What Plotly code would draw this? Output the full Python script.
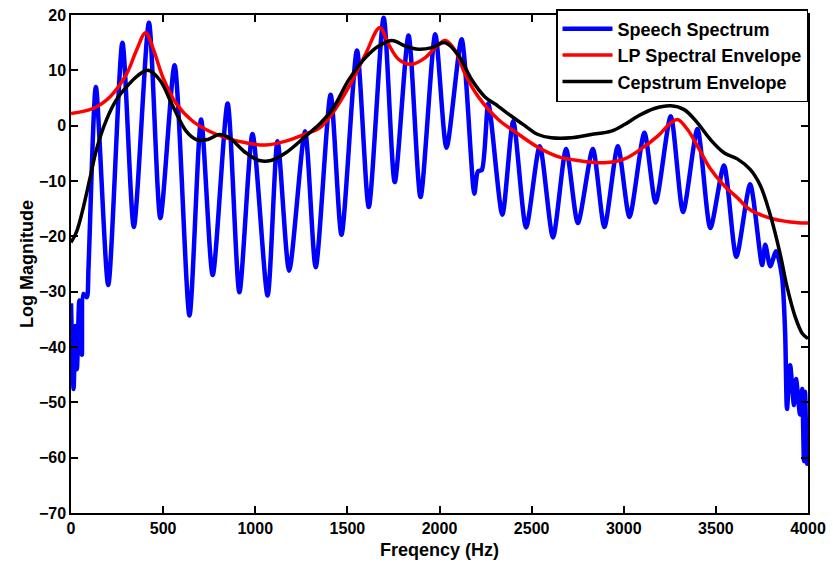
import plotly.graph_objects as go

# Harmonic speech spectrum: turning points (peaks / valleys) of the log magnitude
speech_freq = [0, 14, 23, 32, 45, 59, 68, 86, 95, 135, 202, 279, 341, 423, 485, 562, 643,
               706, 769, 850, 914, 985, 1067, 1121, 1184, 1270, 1328, 1409, 1468, 1552,
               1616, 1697, 1757, 1832, 1897, 1977, 2038, 2120, 2189, 2208, 2230, 2265,
               2341, 2400, 2470, 2544, 2616, 2687, 2751, 2832, 2895, 2968, 3031, 3112,
               3173, 3255, 3322, 3400, 3470, 3544, 3611, 3686, 3751, 3768, 3795, 3827,
               3859, 3876, 3886, 3903, 3924, 3935, 3957, 3968, 3978, 3984, 3995, 4000]
speech_mag = [-32.1, -47.6, -36.2, -44.0, -31.6, -41.4, -30.4, -31.0, -25.6, 7.0, -28.8,
              15.0, -18.3, 18.6, -16.7, 10.9, -34.3, 1.1, -27.0, 4.0, -30.1, -1.5, -30.7,
              -2.8, -26.2, -1.0, -25.6, 5.6, -19.7, 13.6, -14.7, 19.5, -10.2, 16.3, -12.9,
              16.5, -4.0, 15.6, -12.3, -8.3, -8.0, 4.0, -16.1, 0.8, -18.4, -3.7, -20.2,
              -4.2, -17.6, -4.2, -18.3, -3.7, -16.5, -1.3, -13.9, 1.7, -15.6, -0.6, -18.5,
              -7.2, -23.7, -10.6, -25.2, -21.5, -25.4, -22.7, -27.3, -37.5, -51.2, -43.3,
              -50.5, -45.8, -52.2, -47.6, -60.6, -48.1, -61.1, -60.0]

# Linear-prediction spectral envelope
lp_freq = [0, 119, 211, 301, 355, 405, 444, 498, 571, 661, 751, 841, 949, 1058, 1166,
           1274, 1346, 1418, 1508, 1598, 1676, 1724, 1778, 1849, 1923, 1977, 2031, 2085,
           2139, 2211, 2319, 2427, 2535, 2643, 2751, 2895, 3004, 3094, 3184, 3255, 3292,
           3346, 3400, 3470, 3544, 3616, 3686, 3795, 3903, 4000]
lp_mag = [2.2, 3.1, 5.2, 9.3, 13.6, 16.8, 14.1, 8.8, 4.0, 0.8, -1.0, -2.2, -3.1, -3.5,
          -2.8, -1.5, -0.5, 2.2, 7.0, 12.9, 17.7, 14.7, 12.0, 11.1, 12.3, 14.1, 15.4, 13.6,
          9.3, 5.2, 1.1, -1.5, -3.9, -5.6, -6.3, -6.7, -6.0, -4.2, -1.9, 0.5, 1.1, -0.7,
          -3.7, -7.8, -10.8, -13.0, -15.2, -16.7, -17.4, -17.6]

# Cepstrally smoothed envelope
cep_freq = [0, 31, 66, 103, 139, 193, 247, 301, 364, 418, 481, 553, 625, 679, 742, 805,
            859, 949, 1022, 1085, 1166, 1274, 1346, 1418, 1508, 1598, 1670, 1742, 1814,
            1886, 1959, 2031, 2103, 2175, 2247, 2319, 2391, 2463, 2535, 2607, 2715, 2823,
            2932, 3004, 3076, 3166, 3255, 3328, 3400, 3470, 3544, 3616, 3686, 3741, 3795,
            3849, 3886, 3930, 3968, 4000]
cep_mag = [-21.1, -19.1, -14.9, -9.5, -4.2, 1.1, 4.7, 7.0, 9.1, 10.0, 8.3, 3.5, -1.0,
           -2.5, -2.5, -1.6, -2.2, -4.9, -6.3, -6.3, -4.9, -1.9, 0.2, 2.9, 8.3, 12.3, 14.4,
           15.4, 14.4, 13.8, 14.1, 15.0, 12.7, 8.3, 5.2, 3.5, 1.7, 0.0, -1.6, -2.2, -2.2,
           -1.6, -1.0, 0.2, 1.7, 3.1, 3.6, 2.9, 0.5, -2.5, -4.9, -6.0, -7.9, -10.8, -16.1,
           -23.2, -29.1, -34.5, -37.5, -38.5]

x_ticks = [0, 500, 1000, 1500, 2000, 2500, 3000, 3500, 4000]
y_ticks = [-70, -60, -50, -40, -30, -20, -10, 0, 10, 20]

FONT = "Liberation Sans, Arial, Helvetica, sans-serif"

fig = go.Figure()
fig.add_trace(go.Scatter(x=speech_freq, y=speech_mag, mode="lines", name="Speech Spectrum",
                         line=dict(color="#0000ff", width=4.5, shape="spline", smoothing=0.7)))
fig.add_trace(go.Scatter(x=lp_freq, y=lp_mag, mode="lines", name="LP Spectral Envelope",
                         line=dict(color="#ff0000", width=3.5, shape="spline", smoothing=1.0)))
fig.add_trace(go.Scatter(x=cep_freq, y=cep_mag, mode="lines", name="Cepstrum Envelope",
                         line=dict(color="#000000", width=3.5, shape="spline", smoothing=1.0)))

axis_common = dict(showgrid=False, zeroline=False, showline=True, linecolor="black",
                   linewidth=1.5, mirror="ticks", ticks="inside", ticklen=7,
                   tickcolor="black", tickwidth=1.5,
                   tickfont=dict(family=FONT, size=16, color="black", weight="bold"))

fig.update_layout(
    width=833, height=572,
    margin=dict(l=71, r=22, t=7, b=59),
    plot_bgcolor="white", paper_bgcolor="white",
    xaxis=dict(range=[0, 4000], tickvals=x_ticks,
               title=dict(text="Freqency (Hz)", standoff=7,
                          font=dict(family=FONT, size=18, color="black", weight="bold")),
               **axis_common),
    yaxis=dict(range=[-70, 20], tickvals=y_ticks,
               title=dict(text="Log Magnitude", standoff=1,
                          font=dict(family=FONT, size=18, color="black", weight="bold")),
               **axis_common),
    legend=dict(x=1, y=1.012, xanchor="right", yanchor="top",
                bgcolor="white", bordercolor="black", borderwidth=1.5,
                font=dict(family=FONT, size=18, color="black", weight="bold"),
                itemwidth=50, tracegroupgap=0),
    showlegend=True,
)

fig.write_html("out.html")
